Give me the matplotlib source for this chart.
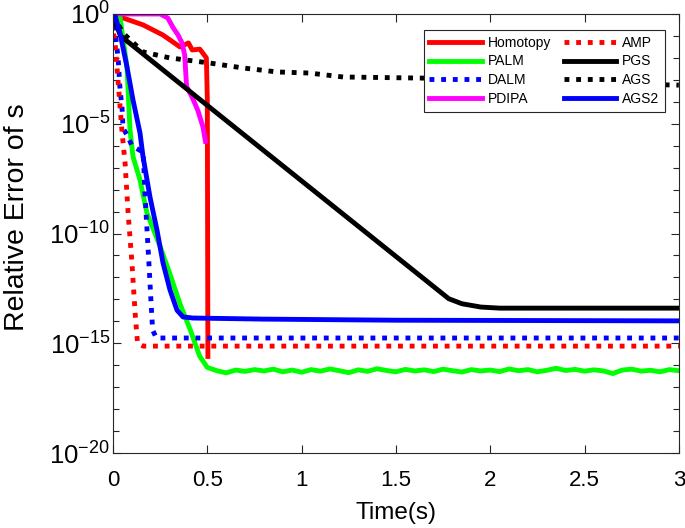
import numpy as np
import matplotlib.pyplot as plt

plt.rcParams['font.family'] = ['Liberation Sans', 'DejaVu Sans']

# values, stored as log10(relative error)
t_homotopy = [0, 0.01, 0.16, 0.265, 0.355, 0.40, 0.42, 0.46, 0.495, 0.50, 0.503]
e_homotopy = [0, -0.05, -0.5, -0.96, -1.5, -1.32, -1.64, -1.6, -2.0, -3.9, -15.6]

t_palm = [0, 0.02, 0.037, 0.074, 0.09, 0.106, 0.143, 0.18, 0.25, 0.30, 0.355, 0.41, 0.46]
e_palm = [0, -0.05, -0.14, -2.41, -5.28, -6.5, -7.56, -9.07, -10.6, -11.8, -13.2, -14.4, -15.6]
t_palm_tail = np.arange(0.50, 3.001, 0.05)
e_palm_tail = [-16.10, -16.25, -16.35, -16.22, -16.28, -16.20, -16.26, -16.18, -16.30, -16.22,
               -16.32, -16.20, -16.27, -16.17, -16.25, -16.34, -16.21, -16.28, -16.16, -16.24,
               -16.30, -16.19, -16.26, -16.21, -16.29, -16.18, -16.25, -16.31, -16.20, -16.26,
               -16.22, -16.29, -16.17, -16.25, -16.20, -16.30, -16.23, -16.14, -16.24, -16.19,
               -16.27, -16.21, -16.26, -16.38, -16.22, -16.18, -16.27, -16.23, -16.30, -16.20,
               -16.25]

t_dalm = [0, 0.027, 0.037, 0.048, 0.053, 0.08, 0.10, 0.16, 0.17, 0.18, 0.19, 0.20, 0.21, 0.23, 3.0]
e_dalm = [0, -2.0, -3.4, -4.3, -5.2, -5.6, -6.0, -6.3, -8.3, -9.8, -11.3, -12.9, -14.4, -14.76, -14.76]

t_pdipa = [0, 0.25, 0.29, 0.32, 0.345, 0.366, 0.38, 0.39, 0.42, 0.45, 0.477, 0.49]
e_pdipa = [0, 0, -0.18, -0.64, -0.96, -1.32, -1.87, -3.3, -3.8, -4.4, -5.15, -5.8]

t_amp = [0.003, 0.01, 0.048, 0.064, 0.08, 0.10, 0.117, 0.13, 0.16, 3.0]
e_amp = [-0.9, -1.2, -5.4, -6.8, -9.07, -11.3, -13.6, -15.0, -15.13, -15.13]

t_pgs = [0, 0.04, 1.78, 1.85, 1.95, 2.05, 3.0]
e_pgs = [-0.1, -1.0, -12.97, -13.2, -13.35, -13.4, -13.4]

t_ags = [0, 0.053, 0.16, 0.30, 0.51, 0.69, 0.87, 1.04, 1.22, 1.64, 2.94, 3.0]
e_ags = [-0.05, -0.87, -1.73, -2.0, -2.23, -2.46, -2.64, -2.69, -2.87, -2.92, -3.23, -3.24]

t_ags2 = [0, 0.01, 0.037, 0.074, 0.106, 0.143, 0.159, 0.196, 0.233, 0.265, 0.302, 0.339,
          0.371, 0.424, 0.8, 1.5, 3.0]
e_ags2 = [0, -0.05, -0.87, -2.41, -3.92, -5.42, -6.5, -8.34, -9.84, -11.34, -12.57, -13.49,
          -13.8, -13.85, -13.9, -13.95, -13.98]

fig = plt.figure(figsize=(6.85, 5.28), dpi=100)
ax = fig.add_axes([0.165, 0.142, 0.826, 0.8315])

lw = 3.5
dot = (0, (1, 1.4))
ax.plot(t_homotopy, 10.0 ** np.array(e_homotopy), color='#ff0000', lw=lw, label='Homotopy')
ax.plot(list(t_palm) + list(t_palm_tail), 10.0 ** np.array(e_palm + e_palm_tail),
        color='#00ff00', lw=lw, label='PALM')
ax.plot(t_dalm, 10.0 ** np.array(e_dalm), color='#0000ff', lw=lw, ls=dot, label='DALM')
ax.plot(t_pdipa, 10.0 ** np.array(e_pdipa), color='#ff00ff', lw=lw, label='PDIPA')
ax.plot(t_amp, 10.0 ** np.array(e_amp), color='#ff0000', lw=lw, ls=dot, label='AMP')
ax.plot(t_pgs, 10.0 ** np.array(e_pgs), color='k', lw=lw, label='PGS')
ax.plot(t_ags, 10.0 ** np.array(e_ags), color='k', lw=lw, ls=dot, label='AGS')
ax.plot(t_ags2, 10.0 ** np.array(e_ags2), color='#0000ff', lw=lw, label='AGS2')

ax.set_yscale('log')
ax.set_xlim(0, 3)
ax.set_ylim(1e-20, 1e0)
ax.set_xticks([0, 0.5, 1, 1.5, 2, 2.5, 3])
ax.set_xticklabels(['0', '0.5', '1', '1.5', '2', '2.5', '3'])
yt = [0, -5, -10, -15, -20]
ax.set_yticks([10.0 ** k for k in yt])
ax.set_yticklabels([r'$\mathregular{10^{%d}}$' % k for k in yt])
ax.set_yticks([10.0 ** k for k in range(-20, 1)], minor=True)
ax.yaxis.set_minor_formatter(plt.NullFormatter())
ax.tick_params(which='both', direction='in', top=True, right=True,
               color='#262626', width=0.8)
ax.tick_params(which='major', length=6)
ax.tick_params(which='minor', length=4.5)
ax.tick_params(axis='x', labelsize=16, pad=12)
ax.tick_params(axis='y', labelsize=18.5, pad=2)
for s in ax.spines.values():
    s.set_color('#262626')
    s.set_linewidth(0.8)

ax.set_xlabel('Time(s)', fontsize=17.5)
ax.set_ylabel('Relative Error of s', fontsize=20.5)
ax.xaxis.set_label_coords(0.5, -0.112)
ax.yaxis.set_label_coords(-0.146, 0.5376)

leg = ax.legend(ncol=2, loc='upper right', bbox_to_anchor=(0.975, 0.9636), borderaxespad=0,
                fontsize=10, handlelength=3.8, handletextpad=0.4, columnspacing=0.9,
                labelspacing=0.35, fancybox=False, framealpha=1)
leg.get_frame().set_edgecolor('#262626')
leg.get_frame().set_linewidth(0.8)

fig.savefig('out.png', dpi=100)
